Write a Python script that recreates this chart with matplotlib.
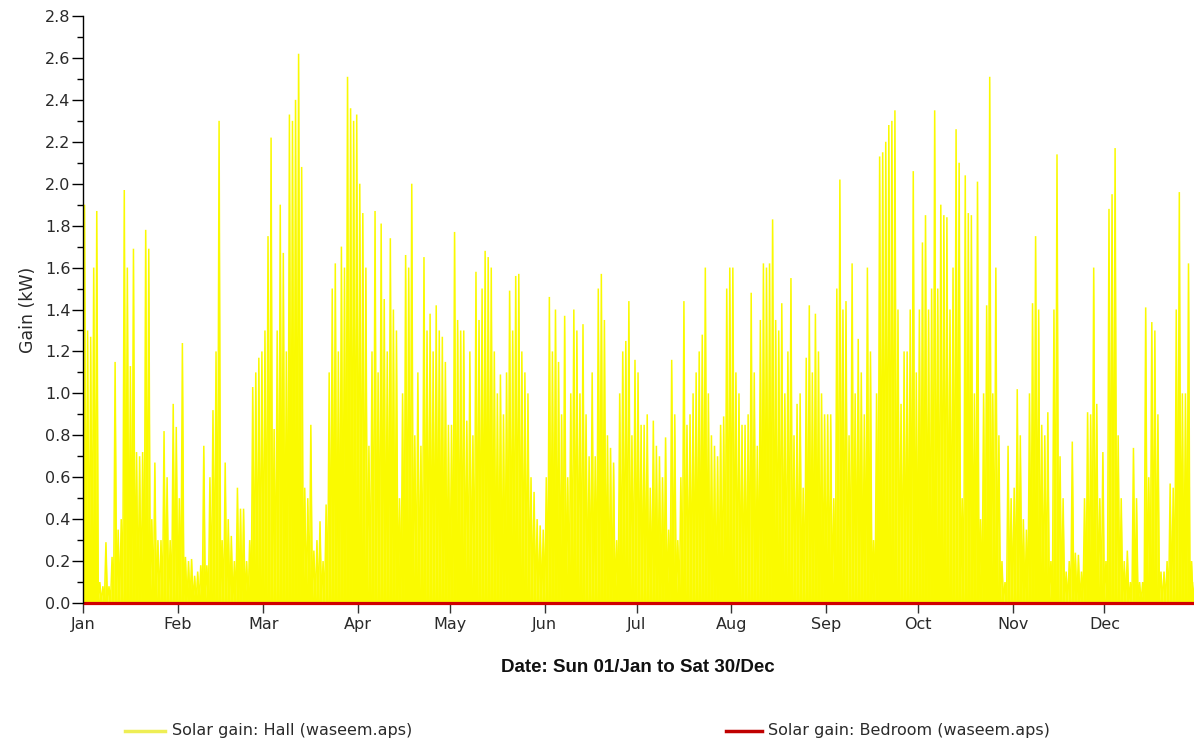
import numpy as np
import matplotlib
matplotlib.use("Agg")
import matplotlib.pyplot as plt
from matplotlib.lines import Line2D
from matplotlib.ticker import MultipleLocator, FormatStrFormatter

# daily peak solar gain for the hall (kW), one list per month
jan = [1.90, 1.30, 1.27, 1.60, 1.87, 0.10, 0.08, 0.29, 0.08, 0.22, 1.15, 0.35, 0.40, 1.97, 1.60, 1.13,
       1.69, 0.72, 0.70, 0.72, 1.78, 1.69, 0.40, 0.67, 0.30, 0.30, 0.82, 0.60, 0.30, 0.95, 0.84]
feb = [0.50, 1.24, 0.22, 0.20, 0.21, 0.13, 0.15, 0.18, 0.75, 0.18, 0.60, 0.92, 1.20, 2.30, 0.30, 0.67,
       0.40, 0.32, 0.20, 0.55, 0.45, 0.45, 0.20, 0.30, 1.03, 1.10, 1.17, 1.20]
mar = [1.30, 1.75, 2.22, 0.83, 1.30, 1.90, 1.67, 1.20, 2.33, 2.30, 2.40, 2.62, 2.08, 0.55, 0.50, 0.85,
       0.25, 0.30, 0.39, 0.20, 0.47, 1.10, 1.50, 1.62, 1.20, 1.70, 1.60, 2.51, 2.36, 2.30, 2.33]
apr = [2.00, 1.86, 1.60, 0.75, 1.20, 1.87, 1.10, 1.81, 1.45, 1.20, 1.74, 1.40, 1.30, 0.50, 1.00, 1.66,
       1.60, 2.00, 0.80, 1.10, 0.75, 1.65, 1.30, 1.38, 1.20, 1.42, 1.30, 1.27, 1.15, 0.85]
may = [0.85, 1.77, 1.35, 1.30, 1.30, 0.87, 1.20, 0.80, 1.58, 1.35, 1.50, 1.68, 1.65, 1.60, 1.20, 1.00,
       1.09, 0.90, 1.10, 1.49, 1.30, 1.56, 1.57, 1.20, 1.10, 1.00, 0.60, 0.53, 0.40, 0.37, 0.35]
jun = [0.60, 1.46, 1.20, 1.40, 1.15, 0.90, 1.37, 0.60, 1.00, 1.40, 1.30, 1.00, 1.33, 0.90, 0.70, 1.10,
       0.70, 1.50, 1.57, 1.35, 0.80, 0.74, 0.67, 0.30, 1.00, 1.20, 1.25, 1.44, 0.80, 1.16]
jul = [1.10, 0.85, 0.85, 0.90, 0.55, 0.87, 0.75, 0.70, 0.60, 0.79, 0.35, 1.16, 0.90, 0.30, 0.60, 1.44,
       0.85, 0.90, 1.00, 1.10, 1.20, 1.28, 1.60, 1.00, 0.80, 0.75, 0.70, 0.85, 0.89, 1.50, 1.60]
aug = [1.60, 1.10, 1.00, 0.85, 0.85, 0.90, 1.48, 1.10, 0.75, 1.35, 1.62, 1.60, 1.62, 1.83, 1.35, 1.30,
       1.43, 1.00, 1.20, 1.55, 0.80, 0.95, 1.00, 0.55, 1.17, 1.42, 1.10, 1.38, 1.20, 1.00, 0.90]
sep = [0.90, 0.90, 0.50, 1.50, 2.02, 1.40, 1.44, 0.80, 1.62, 1.00, 1.26, 1.10, 0.90, 1.60, 1.20, 0.30,
       1.00, 2.13, 2.15, 2.20, 2.28, 2.30, 2.35, 1.40, 0.95, 1.20, 1.20, 1.40, 2.06, 1.10]
oct = [1.40, 1.72, 1.85, 1.40, 1.50, 2.35, 1.50, 1.90, 1.85, 1.84, 1.40, 1.60, 2.26, 2.10, 0.50, 2.04,
       1.86, 1.85, 1.00, 2.01, 0.40, 1.00, 1.42, 2.51, 1.00, 1.60, 0.80, 0.20, 0.10, 0.75, 0.50]
nov = [0.55, 1.02, 0.80, 0.40, 0.35, 1.00, 1.43, 1.75, 1.40, 0.85, 0.80, 0.91, 0.20, 1.40, 2.14, 0.70,
       0.50, 0.15, 0.20, 0.77, 0.24, 0.23, 0.15, 0.50, 0.91, 0.90, 1.60, 0.95, 0.50, 0.72]
dec = [0.20, 1.88, 1.95, 2.17, 0.80, 0.50, 0.20, 0.25, 0.10, 0.74, 0.50, 0.10, 0.10, 1.41, 0.60, 1.34,
       1.30, 0.90, 0.15, 0.15, 0.20, 0.57, 0.55, 1.40, 1.96, 1.00, 1.00, 1.62, 0.20, 0.10]

months = ['Jan', 'Feb', 'Mar', 'Apr', 'May', 'Jun', 'Jul', 'Aug', 'Sep', 'Oct', 'Nov', 'Dec']
month_days = [31, 28, 31, 30, 31, 30, 31, 31, 30, 31, 30, 30]

hall = np.concatenate([jan, feb, mar, apr, may, jun, jul, aug, sep, oct, nov, dec])
n_days = len(hall)

# zero at night, peak at midday -> one spike per day
x = np.repeat(np.arange(n_days), 2) + np.tile([0.0, 0.5], n_days)
x = np.append(x, n_days)
y = np.zeros(len(x))
y[1::2] = hall
bedroom = np.zeros(len(x))

YELLOW = '#fafa00'
RED = '#d00000'
TXT = '#2a2a2a'

fig = plt.figure(figsize=(11.94, 7.42), dpi=100)
ax = fig.add_axes([83 / 1194, 1 - 603 / 742, (1194 - 83) / 1194, (603 - 16) / 742])

ax.fill_between(x, y, color=YELLOW, lw=0)
ax.plot(x, y, color=YELLOW, lw=1.1, solid_joinstyle='bevel')
ax.plot(x, bedroom, color=RED, lw=2.3, clip_on=False, solid_capstyle='butt')

ax.set_xlim(0, 363.3)
ax.set_ylim(0, 2.8)

starts = np.concatenate([[0], np.cumsum(month_days)[:-1]])
ax.set_xticks(starts)
ax.set_xticklabels(months)
ax.yaxis.set_major_locator(MultipleLocator(0.2))
ax.yaxis.set_minor_locator(MultipleLocator(0.1))
ax.yaxis.set_major_formatter(FormatStrFormatter('%.1f'))

for s in ['top', 'right', 'bottom']:
    ax.spines[s].set_visible(False)
ax.spines['left'].set_linewidth(1.0)

ax.tick_params(axis='y', which='major', length=8, width=1, pad=1, labelsize=11.5, labelcolor=TXT)
ax.tick_params(axis='y', which='minor', length=4, width=1)
ax.tick_params(axis='x', length=7, width=1, pad=3, labelsize=11.5, labelcolor=TXT, color='#333333')

ax.set_ylabel('Gain (kW)', fontsize=12.5, labelpad=6, color=TXT)
fig.text(638 / 1194, 1 - 668 / 742, 'Date: Sun 01/Jan to Sat 30/Dec', ha='center', va='center',
         fontsize=13.5, fontweight='bold', family='Liberation Sans', color='#111111')

# legend row
ly = 1 - 731 / 742
fig.add_artist(Line2D([125 / 1194, 165 / 1194], [ly, ly], color='#eeee55', lw=2.5,
                      transform=fig.transFigure))
fig.text(172 / 1194, ly, 'Solar gain: Hall (waseem.aps)', va='center', fontsize=11.5, color=TXT)
fig.add_artist(Line2D([726 / 1194, 762 / 1194], [ly, ly], color='#c00000', lw=2.5,
                      transform=fig.transFigure))
fig.text(768 / 1194, ly, 'Solar gain: Bedroom (waseem.aps)', va='center', fontsize=11.5, color=TXT)

fig.savefig('out.png', dpi=100)
